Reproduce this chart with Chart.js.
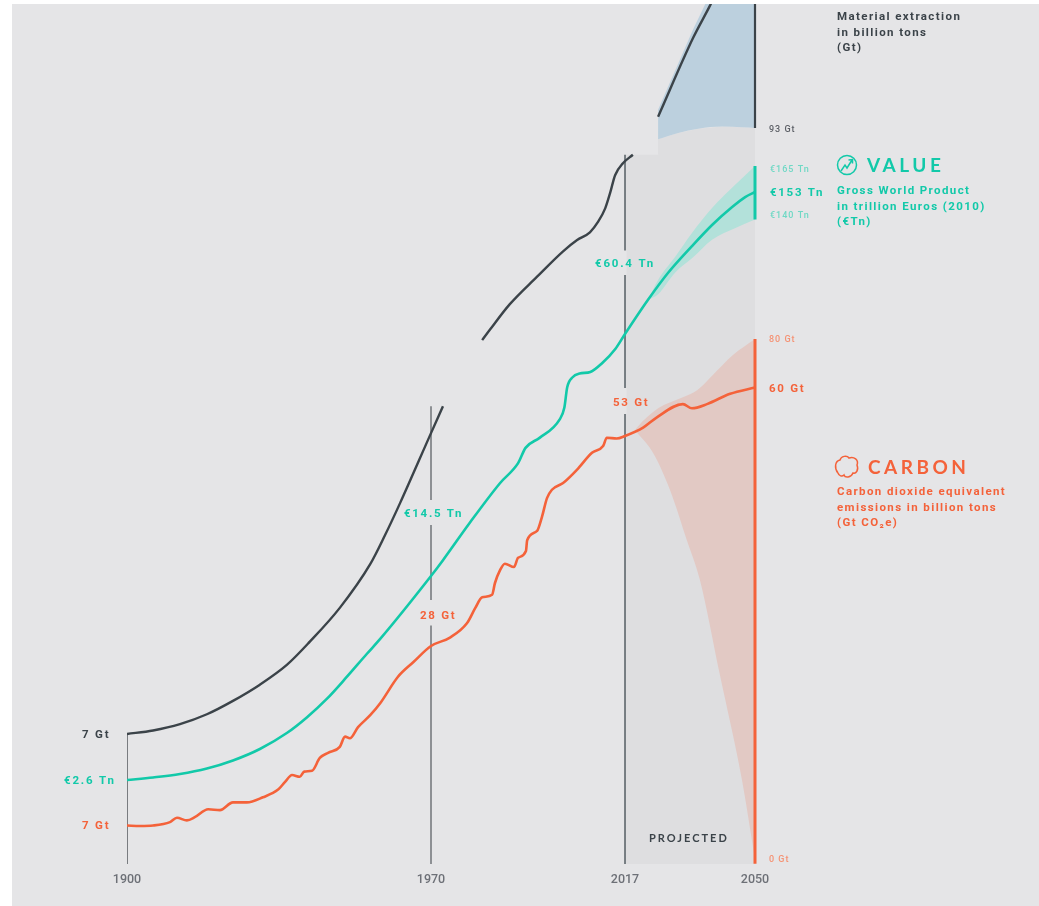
<!DOCTYPE html>
<html>
<head>
<meta charset="utf-8">
<title>Material, value and carbon 1900-2050</title>
<script src="https://cdn.jsdelivr.net/npm/chart.js@4/dist/chart.umd.js"></script>
<style>
    html, body { margin: 0; background: #fff; }
    canvas { display: block; }
</style>
</head>
<body>
<canvas id="myChart" width="1039" height="906"></canvas>
<script>
// Time axis labels
var tickYears = [1900, 1970, 2017, 2050]

// Material extraction (Gt), null where the line is interrupted
var materialYears = [1900, 1906, 1912.2, 1918.4, 1924.4, 1930.6, 1936.8, 1942.1, 1949, 1956, 1959.4, 1962.9, 1970, 1972.9,
    1978, 1982.4, 1984.3, 1989.1, 1995.7, 2002, 2005.4, 2008.5, 2010.5, 2012.2, 2013.4, 2014.6, 2016.5, 2019,
    2022, 2025.4, 2034.3, 2038.6, 2041.1]
var materialValues = [7, 7.5, 8.4, 9.8, 11.7, 14, 16.8, 20.1, 24.9, 31.1, 35.2, 39.8, 49.7, 53.5,
    null, 62.9, 64.4, 68, 71.9, 75.5, 77.1, 78.2, 79.7, 81.6, 83.8, 86.3, 88, 89.2,
    null, 94.6, 105.8, 110.4, 113.3]
var materialHighYears = [2025.4, 2034.3, 2038.6, 2041.1, 2050]
var materialHighValues = [95.6, 107, 112, 115, 130]
var materialLowYears = [2025.4, 2030.5, 2035.6, 2041.7, 2046.7, 2050]
var materialLowValues = [91.4, 92.3, 92.9, 93.2, 93.1, 93]
var projectedYears = [2017, 2025.4, 2025.4, 2030.5, 2035.6, 2041.7, 2046.7, 2050]
var projectedValues = [89.2, 89.2, 91.4, 92.3, 92.9, 93.2, 93.1, 93]

// Gross World Product (trillion euros)
var valueYears = [1900, 1906, 1912.2, 1918.4, 1924.4, 1930.6, 1936.8, 1941.4, 1946, 1950.6, 1955.2, 1958.3, 1970,
    1972.9, 1979.4, 1986.7, 1991.1, 1992.9, 1996.3, 2001.1, 2002.3, 2003, 2004.3, 2006, 2008.6, 2011.5, 2014.7, 2017,
    2022.8, 2027.9, 2034, 2039.1, 2044.2, 2047.5, 2050]
var valueValues = [2.6, 2.75, 2.95, 3.27, 3.74, 4.41, 5.34, 6.25, 7.33, 8.61, 9.95, 10.83, 14.5,
    17.5, 24.6, 32.1, 35.9, 38.8, 40.7, 44.1, 46.4, 50.3, 52.2, 52.9, 53.2, 54.9, 57.6, 60.4,
    84, 102.8, 121.5, 136.2, 145.9, 150.6, 153]
var valueBandYears = [2022.8, 2025.4, 2029.7, 2034, 2039.1, 2044.9, 2050]
var valueHighValues = [84, 98, 113.9, 130.6, 145.4, 156.2, 165]
var valueLowValues = [84, 88, 103, 113, 126, 134, 140]

// Carbon dioxide equivalent emissions (Gt CO2e)
var carbonYears = [1900, 1903, 1906, 1909.9, 1911.5, 1913.8, 1915.7, 1918.7, 1921.4, 1924.4, 1927.6, 1931.3, 1934.8,
    1936.4, 1938, 1939.8, 1940.8, 1942.6, 1944.4, 1946.3, 1949, 1950.2, 1951.3, 1953.2, 1956, 1958.3, 1962.4, 1965.9,
    1970, 1974.6, 1978.7, 1980.7, 1982.4, 1984.8, 1985.5, 1986.7, 1987.9, 1990.1, 1991.1, 1993, 1993.3, 1995.7,
    1996.9, 1998.1, 1999.3, 2002, 2005.4, 2009, 2011.7, 2012.6, 2015, 2017,
    2021.6, 2025.1, 2031.7, 2034, 2037.8, 2043.7, 2050]
var carbonValues = [7, 6.9, 7, 7.4, 7.9, 7.6, 8, 8.9, 8.8, 9.7, 9.7, 10.3, 11.2,
    12.1, 12.9, 12.7, 13.3, 13.4, 14.9, 15.5, 16.2, 17.4, 17.2, 18.5, 19.9, 21.3, 24.4, 26.1,
    28, 29, 30.7, 32.5, 33.8, 34.1, 35.5, 37, 37.8, 37.4, 38.5, 39.3, 40.6, 41.7,
    43.4, 45.6, 46.6, 47.4, 49, 51, 51.8, 52.8, 52.7, 53,
    54.2, 55.7, 57.6, 57, 57.6, 59.1, 60]
var carbonHighYears = [2019.5, 2020, 2025.4, 2031.7, 2035.3, 2039.3, 2044.4, 2050]
var carbonHighValues = [53.8, 54.2, 57, 58.6, 59.6, 65.2, 73.4, 80]
var carbonLowYears = [2019.5, 2020, 2024.1, 2028.4, 2032.7, 2036, 2041.1, 2046.7, 2050]
var carbonLowValues = [53.8, 53.5, 51, 46.6, 40.6, 35.9, 24.6, 12.3, 0]

// Axis stops as [value, canvas pixel]; the source graphic is not evenly spaced
var yearStops = [[1900, 127], [1970, 431], [2017, 625], [2050, 755]]
var materialStops = [[7, 734], [93, 128]]
var valueStops = [[2.6, 780], [14.5, 576], [60.4, 334], [140, 219.5], [153, 192], [165, 166]]
var carbonStops = [[0, 859], [7, 825.5], [28, 646], [53, 436], [60, 387.5], [80, 339]]

var PAPER = '#e5e5e7'
var SHADE = '#dedee0'
var DARK = '#3b4349'
var TEAL = '#12c9a9'
var ORANGE = '#f4623a'
var ORANGE_SOFT = '#f59274'
var TEAL_SOFT = '#6fd8c5'

var BODY = 'Roboto, sans-serif'
var HEAD = 'Lato, sans-serif'
var LABEL_FONT = '700 11.5px ' + BODY
var SMALL_FONT = '500 9px ' + BODY
var NOTE_FONT = '700 11.5px ' + BODY
var TITLE_FONT = '700 19px ' + HEAD

// text, left x, middle y, colour, font, letter spacing
var annotations = [
    ['7 Gt', 82, 735, DARK, LABEL_FONT, 1.8],
    ['€2.6 Tn', 64, 781, TEAL, LABEL_FONT, 1.8],
    ['7 Gt', 82, 826, ORANGE, LABEL_FONT, 1.8],
    ['€14.5 Tn', 404, 514, TEAL, LABEL_FONT, 1.7],
    ['28 Gt', 420, 616, ORANGE, LABEL_FONT, 1.7],
    ['€60.4 Tn', 595, 264, TEAL, LABEL_FONT, 1.8],
    ['53 Gt', 613, 403, ORANGE, LABEL_FONT, 1.7],
    ['93 Gt', 769, 129.5, '#5c5f66', SMALL_FONT, 1],
    ['€165 Tn', 770, 170, TEAL_SOFT, SMALL_FONT, 1],
    ['€153 Tn', 770, 193, TEAL, LABEL_FONT, 1.7],
    ['€140 Tn', 770, 216, TEAL_SOFT, SMALL_FONT, 1],
    ['80 Gt', 769, 340, ORANGE_SOFT, SMALL_FONT, 1],
    ['60 Gt', 769, 389, ORANGE, LABEL_FONT, 1.7],
    ['0 Gt', 769, 860, ORANGE_SOFT, SMALL_FONT, 1],
    ['PROJECTED', 649, 838, DARK, '700 11px ' + HEAD, 2],
    ['Material extraction', 837, 17.5, DARK, NOTE_FONT, 1.4],
    ['in billion tons', 837, 33, DARK, NOTE_FONT, 1.4],
    ['(Gt)', 837, 48, DARK, NOTE_FONT, 1.4],
    ['VALUE', 867, 166, TEAL, TITLE_FONT, 3.5],
    ['Gross World Product', 837, 191.5, TEAL, NOTE_FONT, 1.4],
    ['in trillion Euros (2010)', 837, 207, TEAL, NOTE_FONT, 1.4],
    ['(€Tn)', 837, 222, TEAL, NOTE_FONT, 1.4],
    ['CARBON', 868, 468, ORANGE, TITLE_FONT, 3.5],
    ['Carbon dioxide equivalent', 837, 492, ORANGE, NOTE_FONT, 1.4],
    ['emissions in billion tons', 837, 508, ORANGE, NOTE_FONT, 1.4],
    ['(Gt CO₂e)', 837, 523.5, ORANGE, NOTE_FONT, 1.4]
]

// Breaks in the year rules behind their labels: x, top, bottom
var ruleBreaks = [[431, 500, 525], [431, 600, 625.5], [625, 250.5, 275], [625, 388, 414]]

function zip(xs, ys) {
    return xs.map(function (x, i) { return { x: x, y: ys[i] } })
}

// Linear scale that places values between fixed stops
class AnchoredScale extends Chart.LinearScale {
    getPixelForValue(value) {
        var stops = this.options.stops
        var i = 0
        while (i < stops.length - 2 && value > stops[i + 1][0]) i++
        var a = stops[i]
        var b = stops[i + 1]
        return a[1] + (value - a[0]) / (b[0] - a[0]) * (b[1] - a[1])
    }
}
AnchoredScale.id = 'anchored'
AnchoredScale.defaults = Chart.LinearScale.defaults
Chart.register(AnchoredScale)

function area(years, values, yAxisID, color, fill, mode) {
    return {
        data: zip(years, values), yAxisID: yAxisID, backgroundColor: color,
        borderWidth: 0, borderColor: 'transparent', pointRadius: 0, fill: fill,
        cubicInterpolationMode: mode || 'default', tension: 0
    }
}

function rule(years, values, yAxisID, color, width) {
    return {
        data: zip(years, values), yAxisID: yAxisID, borderColor: color,
        borderWidth: width, pointRadius: 0, fill: false, tension: 0, borderCapStyle: 'butt'
    }
}

function curve(years, values, yAxisID, color, width) {
    var set = rule(years, values, yAxisID, color, width)
    set.cubicInterpolationMode = 'monotone'
    return set
}

function drawIcons(ctx) {
    ctx.lineWidth = 1.5
    ctx.strokeStyle = TEAL
    ctx.beginPath()
    ctx.arc(847, 165, 9.5, 0, Math.PI * 2)
    ctx.stroke()
    ctx.beginPath()
    ctx.moveTo(841, 171)
    ctx.lineTo(845, 165)
    ctx.lineTo(847, 168)
    ctx.lineTo(852, 160)
    ctx.moveTo(848.5, 160)
    ctx.lineTo(852.5, 159.5)
    ctx.lineTo(852.5, 163.5)
    ctx.stroke()

    ctx.strokeStyle = ORANGE
    ctx.beginPath()
    ctx.moveTo(838, 473)
    ctx.bezierCurveTo(834, 468, 835, 461, 840, 460)
    ctx.bezierCurveTo(841, 456, 847, 455, 849, 458)
    ctx.bezierCurveTo(854, 456, 859, 460, 857, 465)
    ctx.bezierCurveTo(859, 470, 856, 474, 853, 473)
    ctx.bezierCurveTo(851, 478, 845, 478, 844, 475)
    ctx.bezierCurveTo(842, 477, 839, 476, 838, 473)
    ctx.stroke()
}

var paperPlugin = {
    id: 'paper',
    beforeDraw: function (chart) {
        var ctx = chart.ctx
        ctx.save()
        ctx.fillStyle = PAPER
        ctx.fillRect(12, 4, chart.width - 12, chart.height - 4)
        ctx.restore()
    }
}

var annotationPlugin = {
    id: 'annotationText',
    afterDraw: function (chart) {
        var ctx = chart.ctx
        ctx.save()
        ctx.fillStyle = PAPER
        ruleBreaks.forEach(function (b) {
            ctx.fillRect(b[0] - 1.5, b[1], 3, b[2] - b[1])
        })
        ctx.textBaseline = 'middle'
        ctx.textAlign = 'left'
        annotations.forEach(function (a) {
            ctx.fillStyle = a[3]
            ctx.font = a[4]
            ctx.letterSpacing = a[5] + 'px'
            ctx.fillText(a[0], a[1], a[2])
        })
        ctx.letterSpacing = '0px'
        drawIcons(ctx)
        ctx.restore()
    }
}

var datasets = [
    // Drawn last to first, so the main lines lead the list
    curve(carbonYears, carbonValues, 'yCarbon', ORANGE, 2.6),
    curve(valueYears, valueValues, 'yValue', TEAL, 2.6),
    curve(materialYears, materialValues, 'yMaterial', DARK, 2.4),

    // Year rules and the end-of-range bars
    rule([2050, 2050], [-1, 80], 'yCarbon', ORANGE, 3),
    rule([2050, 2050], [140, 165], 'yValue', TEAL, 3),
    rule([2050, 2050], [93, 113.3], 'yMaterial', DARK, 2.2),
    rule([2017, 2017], [-11.5, 89.2], 'yMaterial', '#3f4a50', 1.3),
    rule([1970, 1970], [-11.5, 53.5], 'yMaterial', '#6f7378', 1.5),
    rule([1900, 1900], [-11.5, 7], 'yMaterial', '#55595e', 1.5),

    // Projection ranges
    area(carbonHighYears, carbonHighValues, 'yCarbon', '#e2c9c4', '+1', 'monotone'),
    area(carbonLowYears, carbonLowValues, 'yCarbon', 'transparent', false, 'monotone'),
    area(valueBandYears, valueHighValues, 'yValue', '#b3e1da', '+1', 'monotone'),
    area(valueBandYears, valueLowValues, 'yValue', 'transparent', false, 'monotone'),
    area(materialHighYears, materialHighValues, 'yMaterial', '#bcd0de', '+1'),
    area(materialLowYears, materialLowValues, 'yMaterial', 'transparent', false, 'monotone'),

    // Shaded projected period
    area(projectedYears, projectedValues, 'yMaterial', SHADE, 'start')
]

function hiddenAxis(stops, min, max) {
    return { type: 'anchored', display: false, stops: stops, min: min, max: max }
}

// eslint-disable-next-line no-unused-vars
var myChart = new Chart(document.getElementById('myChart'), {
    type: 'line',
    data: { datasets: datasets },
    plugins: [paperPlugin, annotationPlugin],
    options: {
        responsive: false,
        animation: false,
        layout: { padding: { left: 127, right: 280, top: 4, bottom: 0 } },
        plugins: { legend: { display: false }, tooltip: { enabled: false } },
        scales: {
            x: {
                type: 'anchored',
                stops: yearStops,
                min: 1900,
                max: 2050,
                grid: { display: false },
                border: { display: false },
                afterBuildTicks: function (scale) {
                    scale.ticks = tickYears.map(function (y) { return { value: y } })
                },
                afterFit: function (scale) { scale.height = 42 },
                ticks: {
                    autoSkip: false,
                    maxRotation: 0,
                    padding: 0,
                    color: '#6d7077',
                    font: { family: 'Roboto, sans-serif', size: 12.5, weight: '500' },
                    callback: function (v) { return String(v) }
                }
            },
            yMaterial: hiddenAxis(materialStops, -11.5, 110.6),
            yValue: hiddenAxis(valueStops, 0, 200),
            yCarbon: hiddenAxis(carbonStops, -1, 100)
        }
    }
})
</script>
</body>
</html>
